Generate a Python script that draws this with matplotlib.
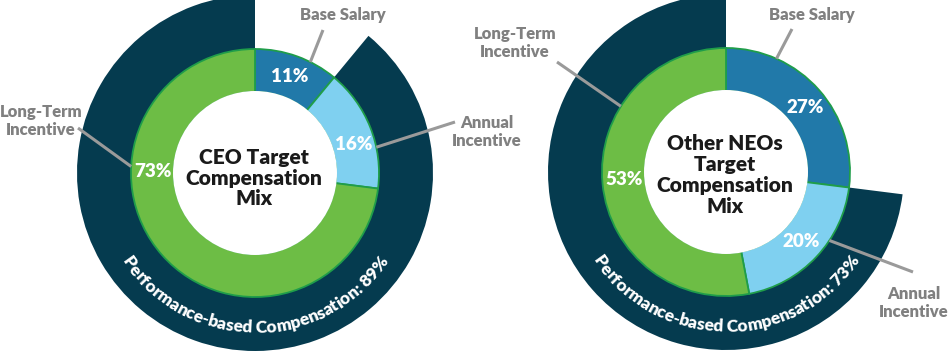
import numpy as np
import matplotlib
matplotlib.use('Agg')
import matplotlib.pyplot as plt

# shares in %, clockwise from 12 o'clock
components = ['Base Salary', 'Annual\nIncentive', 'Long-Term\nIncentive']
ceo_mix = [11, 16, 73]
neo_mix = [27, 20, 53]
perf_based = [89, 73]
titles = ['CEO Target\nCompensation\nMix', 'Other NEOs\nTarget\nCompensation\nMix']
perf_label = 'Performance-based Compensation: {}%'

FONT = 'Lato'
WEIGHT = 'heavy'
DARK = '#053b4f'
COLORS = ['#2179a9', '#7fd0f0', '#6dbd45']
EDGE = '#1f9d4a'
GRAY = '#808080'
LINE = '#9a9a9a'

W, H = 950, 355
R_OUT, R_MID, R_IN = 178, 124, 81

fig = plt.figure(figsize=(W / 100, H / 100), dpi=100)
ax = fig.add_axes([0, 0, 1, 1])
renderer = fig.canvas.get_renderer()

# layout per chart (image pixel coords, y down)
centers = [(255, 173), (726, 172)]
title_shift = [5, 3]
pct_angles = [[20, 74, 271], [51, 133, 266]]          # deg clockwise from top
tip_angles = [[26.5, 78, 273], [24, 123.5, 302]]
label_pos = [[(343, 15), (487, 132), (41, 121)],
             [(812, 15), (914, 303), (515, 43)]]
line_end = [[(323, 30), (455, 122), (78, 128)],
            [(792, 29), (913, 272), (557, 62)]]


def to_xy(cx, cy, r, ang):
    a = np.radians(ang)
    return cx + r * np.sin(a), (H - cy) + r * np.cos(a)


def arc_text(cx, cy, r, s, size):
    def width(t):
        if not t:
            return 0.0
        tt = ax.text(0, 0, t, fontsize=size, fontweight=WEIGHT, family=FONT)
        w = tt.get_window_extent(renderer=renderer).width
        tt.remove()
        return w
    total = width(s)
    for i, ch in enumerate(s):
        if ch == ' ':
            continue
        pos = (width(s[:i]) + width(s[:i + 1])) / 2
        theta = 270 + np.degrees((pos - total / 2) / r)
        x = cx + r * np.cos(np.radians(theta))
        y = (H - cy) + r * np.sin(np.radians(theta))
        ax.text(x, y, ch, fontsize=size, fontweight=WEIGHT, family=FONT,
                color='white', ha='center', va='baseline',
                rotation=theta - 270, rotation_mode='anchor')


for k, mix in enumerate([ceo_mix, neo_mix]):
    cx, cy = centers[k]
    c = (cx, H - cy)
    ax.pie([mix[0], perf_based[k]], radius=R_OUT, center=c, startangle=90,
           counterclock=False, colors=['none', DARK],
           wedgeprops=dict(width=R_OUT - R_MID, linewidth=0))
    ax.pie(mix, radius=R_MID, center=c, startangle=90, counterclock=False,
           colors=COLORS,
           wedgeprops=dict(width=R_MID - R_IN, edgecolor=EDGE, linewidth=1.3))
    ax.pie([1], radius=R_IN + 1, center=c, colors=['white'],
           wedgeprops=dict(linewidth=0))

    ax.text(cx - 1, H - cy - title_shift[k], titles[k], fontsize=15,
            fontweight=WEIGHT, family=FONT, color='#1a1a1a', ha='center',
            va='center', linespacing=1.12)

    for j, v in enumerate(mix):
        x, y = to_xy(cx, cy, (R_MID + R_IN) / 2, pct_angles[k][j])
        ax.text(x, y, f'{v}%', fontsize=13.5, fontweight=WEIGHT, family=FONT,
                color='white', ha='center', va='center')
        tx, ty = to_xy(cx, cy, R_MID, tip_angles[k][j])
        ex, ey = line_end[k][j]
        ax.plot([tx, ex], [ty, H - ey], color=LINE, lw=2.2,
                solid_capstyle='butt')
        lx, ly = label_pos[k][j]
        ax.text(lx, H - ly, components[j], fontsize=12, fontweight=WEIGHT,
                family=FONT, color=GRAY, ha='center', va='center',
                linespacing=1.15)

    arc_text(cx, cy, 160, perf_label.format(perf_based[k]), 12.5)

ax.set_xlim(0, W)
ax.set_ylim(0, H)
ax.set_aspect('auto')
ax.axis('off')
fig.savefig('out.png', dpi=100)
